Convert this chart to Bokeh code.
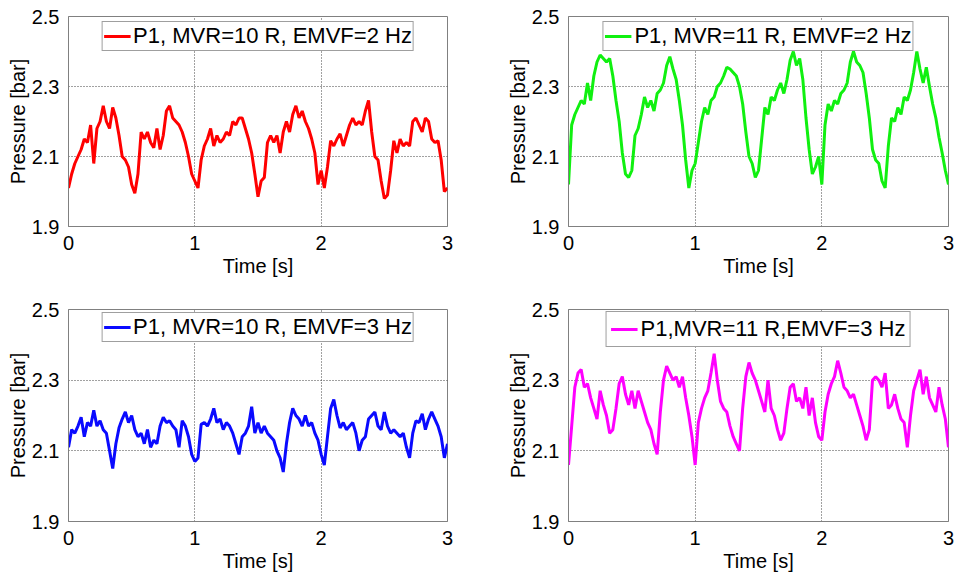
import numpy as np
from bokeh.plotting import figure
from bokeh.layouts import column, row
from bokeh.models import FixedTicker, Range1d
from bokeh.embed import file_html
from bokeh.resources import INLINE

# Pressure P1 [bar], sampled every 0.025 s over 0..3 s
p1_mvr10_2hz = [
    2.01, 2.05, 2.08, 2.10, 2.12, 2.15, 2.14, 2.19, 2.08, 2.18,
    2.20, 2.245, 2.20, 2.18, 2.24, 2.21, 2.16, 2.10, 2.09, 2.07,
    2.02, 1.995, 2.05, 2.17, 2.15, 2.17, 2.14, 2.125, 2.18, 2.12,
    2.16, 2.23, 2.245, 2.21, 2.20, 2.19, 2.17, 2.14, 2.10, 2.05,
    2.03, 2.01, 2.09, 2.13, 2.15, 2.18, 2.13, 2.16, 2.14, 2.15,
    2.17, 2.16, 2.20, 2.19, 2.21, 2.21, 2.18, 2.15, 2.11, 2.05,
    1.985, 2.03, 2.04, 2.14, 2.16, 2.14, 2.16, 2.11, 2.17, 2.20,
    2.17, 2.22, 2.245, 2.21, 2.23, 2.20, 2.18, 2.15, 2.11, 2.02,
    2.06, 2.01, 2.07, 2.145, 2.13, 2.15, 2.165, 2.13, 2.16, 2.19,
    2.21, 2.19, 2.20, 2.19, 2.23, 2.26, 2.17, 2.10, 2.09, 2.03,
    1.98, 1.99, 2.06, 2.145, 2.11, 2.15, 2.13, 2.14, 2.13, 2.20,
    2.21, 2.19, 2.17, 2.21, 2.20, 2.15, 2.14, 2.145, 2.09, 2.00,
    2.01,
]

p1_mvr11_2hz = [
    2.02, 2.19, 2.22, 2.24, 2.26, 2.25, 2.31, 2.26, 2.33, 2.37,
    2.39, 2.38, 2.37, 2.38, 2.33, 2.26, 2.20, 2.11, 2.05, 2.04,
    2.06, 2.16, 2.18, 2.22, 2.27, 2.24, 2.26, 2.23, 2.28, 2.29,
    2.31, 2.36, 2.385, 2.35, 2.32, 2.26, 2.19, 2.09, 2.01, 2.06,
    2.08, 2.14, 2.20, 2.24, 2.22, 2.26, 2.27, 2.30, 2.31, 2.33,
    2.355, 2.35, 2.34, 2.33, 2.30, 2.25, 2.17, 2.10, 2.08, 2.04,
    2.06, 2.15, 2.24, 2.22, 2.27, 2.26, 2.29, 2.31, 2.28, 2.32,
    2.375, 2.40, 2.36, 2.38, 2.32, 2.21, 2.12, 2.05, 2.07, 2.10,
    2.02, 2.19, 2.25, 2.23, 2.26, 2.25, 2.28, 2.29, 2.31, 2.37,
    2.40, 2.37, 2.36, 2.34, 2.28, 2.21, 2.12, 2.09, 2.08, 2.03,
    2.01, 2.13, 2.21, 2.20, 2.24, 2.22, 2.27, 2.26, 2.29, 2.34,
    2.40, 2.35, 2.31, 2.355, 2.30, 2.25, 2.21, 2.155, 2.11, 2.06,
    2.02,
]

p1_mvr10_3hz = [
    2.11, 2.16, 2.15, 2.17, 2.195, 2.14, 2.18, 2.17, 2.215, 2.17,
    2.185, 2.16, 2.15, 2.10, 2.05, 2.12, 2.165, 2.19, 2.21, 2.18,
    2.20, 2.16, 2.14, 2.15, 2.12, 2.16, 2.11, 2.13, 2.12, 2.17,
    2.195, 2.18, 2.185, 2.17, 2.16, 2.11, 2.185, 2.17, 2.14, 2.09,
    2.07, 2.08, 2.175, 2.18, 2.17, 2.19, 2.22, 2.18, 2.19, 2.16,
    2.18, 2.17, 2.15, 2.12, 2.09, 2.14, 2.15, 2.17, 2.225, 2.15,
    2.18, 2.15, 2.17, 2.15, 2.14, 2.13, 2.10, 2.08, 2.04, 2.12,
    2.18, 2.22, 2.20, 2.19, 2.17, 2.20, 2.17, 2.18, 2.15, 2.13,
    2.09, 2.06, 2.14, 2.22, 2.245, 2.20, 2.165, 2.18, 2.16, 2.17,
    2.18, 2.15, 2.10, 2.13, 2.14, 2.19, 2.20, 2.21, 2.17, 2.16,
    2.21, 2.17, 2.15, 2.16, 2.15, 2.14, 2.15, 2.11, 2.08, 2.15,
    2.185, 2.18, 2.205, 2.16, 2.19, 2.21, 2.19, 2.17, 2.14, 2.08,
    2.12,
]

p1_mvr11_3hz = [
    2.06, 2.17, 2.28, 2.32, 2.33, 2.28, 2.29, 2.25, 2.22, 2.19,
    2.27, 2.23, 2.20, 2.15, 2.16, 2.22, 2.29, 2.31, 2.26, 2.23,
    2.27, 2.22, 2.27, 2.24, 2.21, 2.18, 2.16, 2.12, 2.09, 2.21,
    2.30, 2.34, 2.32, 2.30, 2.31, 2.28, 2.31, 2.25, 2.20, 2.14,
    2.06, 2.18, 2.22, 2.25, 2.27, 2.32, 2.375, 2.30, 2.24, 2.22,
    2.21, 2.17, 2.14, 2.12, 2.10, 2.22, 2.31, 2.35, 2.32, 2.30,
    2.27, 2.24, 2.21, 2.30, 2.22, 2.20, 2.16, 2.13, 2.15, 2.22,
    2.28, 2.29, 2.24, 2.25, 2.22, 2.28, 2.20, 2.25, 2.18, 2.14,
    2.13, 2.21, 2.26, 2.29, 2.31, 2.355, 2.32, 2.28, 2.27, 2.25,
    2.26, 2.23, 2.20, 2.17, 2.13, 2.16, 2.30, 2.31, 2.30, 2.28,
    2.32, 2.22, 2.23, 2.26, 2.22, 2.19, 2.18, 2.11, 2.20, 2.27,
    2.30, 2.33, 2.26, 2.31, 2.25, 2.23, 2.21, 2.28, 2.23, 2.19,
    2.11,
]

x_ticks = [0, 1, 2, 3]
y_ticks = [1.9, 2.1, 2.3, 2.5]

FONT = "Liberation Sans"


def make_panel(values, color, label, left, right, top, bottom, fw, fh,
               leg_pad, leg_margin):
    t = np.linspace(0.0, 3.0, len(values))
    p = figure(
        frame_width=fw, frame_height=fh,
        min_border_left=left, min_border_right=right,
        min_border_top=top, min_border_bottom=bottom,
        x_range=Range1d(0, 3), y_range=Range1d(1.9, 2.5),
        output_backend="svg", toolbar_location=None,
        background_fill_color="white", border_fill_color="white",
    )
    p.line(t, values, line_color=color, line_width=3.0, legend_label=label)

    p.outline_line_color = "#808080"
    p.outline_line_width = 1

    for ax in (p.xaxis[0], p.yaxis[0]):
        ax.axis_line_color = "#808080"
        ax.major_tick_line_color = None
        ax.minor_tick_line_color = None
        ax.major_label_text_font = FONT
        ax.major_label_text_font_size = "20px"
        ax.major_label_text_color = "black"
        ax.axis_label_text_font = FONT
        ax.axis_label_text_font_size = "20px"
        ax.axis_label_text_font_style = "normal"
        ax.axis_label_text_color = "black"
        ax.major_label_standoff = 3
    p.xaxis.axis_label_standoff = 2
    p.yaxis.axis_label_standoff = 0

    p.xaxis.ticker = FixedTicker(ticks=x_ticks)
    p.yaxis.ticker = FixedTicker(ticks=y_ticks)
    p.xaxis.axis_label = "Time [s]"
    p.yaxis.axis_label = "Pressure [bar]"

    p.xgrid.ticker = FixedTicker(ticks=[1, 2])
    p.ygrid.ticker = FixedTicker(ticks=[2.1, 2.3])
    for g in (p.xgrid[0], p.ygrid[0]):
        g.grid_line_color = "#303030"
        g.grid_line_dash = "1 2"
        g.grid_line_width = 1
        g.grid_line_alpha = 0.9

    lg = p.legend[0]
    lg.location = "top_center"
    lg.margin = leg_margin
    lg.padding = leg_pad
    lg.spacing = 0
    lg.glyph_width = 27
    lg.glyph_height = 14
    lg.label_height = 14
    lg.label_standoff = 3
    lg.label_text_font = FONT
    lg.label_text_font_size = "22px"
    lg.label_text_color = "black"
    lg.border_line_color = "#404040"
    lg.border_line_width = 1
    lg.background_fill_color = "white"
    lg.background_fill_alpha = 1.0
    return p


p_tl = make_panel(p1_mvr10_2hz, "#ff0000", "P1, MVR=10 R, EMVF=2 Hz",
                  68, 31, 16, 61, 379, 210, 1, 5)
p_tr = make_panel(p1_mvr11_2hz, "#10f010", "P1, MVR=11 R, EMVF=2 Hz",
                  90, 8, 16, 61, 380, 210, 1, 5)
p_bl = make_panel(p1_mvr10_3hz, "#0a0aff", "P1, MVR=10 R, EMVF=3 Hz",
                  68, 31, 22, 53, 379, 212, 1, 3)
p_br = make_panel(p1_mvr11_3hz, "#ff00ff", "P1,MVR=11 R,EMVF=3 Hz",
                  90, 8, 22, 53, 380, 212, 4, 2)

layout = column(row(p_tl, p_tr, spacing=0), row(p_bl, p_br, spacing=0), spacing=0)

with open("out.html", "w") as f:
    f.write(file_html(layout, INLINE))
